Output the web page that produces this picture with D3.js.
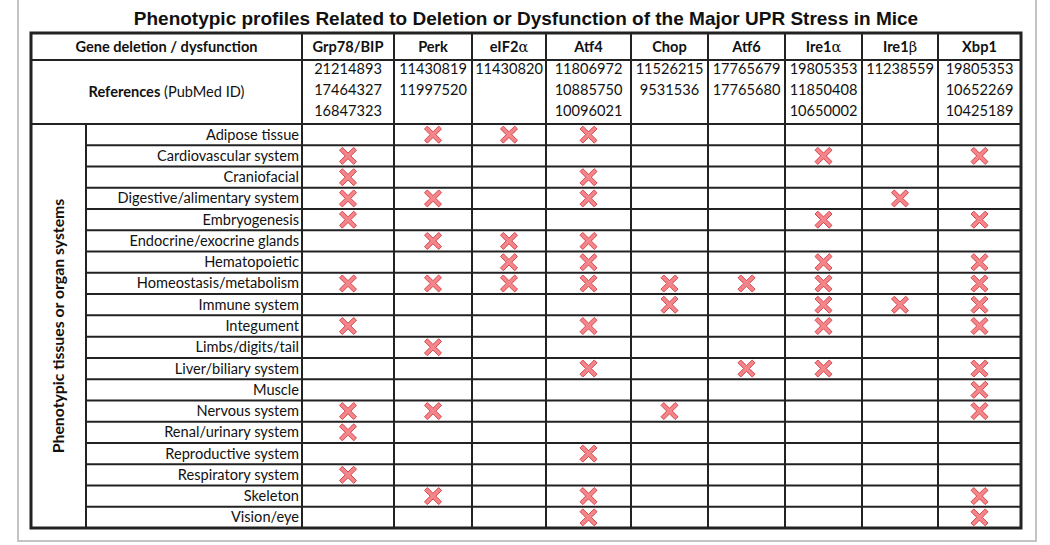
<!DOCTYPE html>
<html>
<head>
<meta charset="utf-8">
<script src="https://cdn.jsdelivr.net/npm/d3@7"></script>
<style>
  html, body { margin: 0; padding: 0; background: #fff; }
  #svg-container { width: 1050px; height: 545px; }
  text { font-family: Lato, "Open Sans", sans-serif; fill: #111; }
</style>
</head>
<body>
<div id="svg-container"></div>
<script>
////////////////////////////////////////////////////////////////////
////////////////////////////  Data  ////////////////////////////////
const title = "Phenotypic profiles Related to Deletion or Dysfunction of the Major UPR Stress in Mice";

// genes (column headers); greek letter kept apart so it can take a serif face
const genes = ["Grp78/BIP", "Perk", "eIF2α", "Atf4", "Chop", "Atf6", "Ire1α", "Ire1β", "Xbp1"];

const pubmedIds = [
  ["21214893", "17464327", "16847323"],
  ["11430819", "11997520"],
  ["11430820"],
  ["11806972", "10885750", "10096021"],
  ["11526215", "9531536"],
  ["17765679", "17765680"],
  ["19805353", "11850408", "10650002"],
  ["11238559"],
  ["19805353", "10652269", "10425189"],
];

const systems = [
  "Adipose tissue", "Cardiovascular system", "Craniofacial",
  "Digestive/alimentary system", "Embryogenesis", "Endocrine/exocrine glands",
  "Hematopoietic", "Homeostasis/metabolism", "Immune system", "Integument",
  "Limbs/digits/tail", "Liver/biliary system", "Muscle", "Nervous system",
  "Renal/urinary system", "Reproductive system", "Respiratory system",
  "Skeleton", "Vision/eye",
];

// phenotype reported: system -> genes marked
const phenotypes = [
  ["Perk", "eIF2α", "Atf4"],
  ["Grp78/BIP", "Ire1α", "Xbp1"],
  ["Grp78/BIP", "Atf4"],
  ["Grp78/BIP", "Perk", "Atf4", "Ire1β"],
  ["Grp78/BIP", "Ire1α", "Xbp1"],
  ["Perk", "eIF2α", "Atf4"],
  ["eIF2α", "Atf4", "Ire1α", "Xbp1"],
  ["Grp78/BIP", "Perk", "eIF2α", "Atf4", "Chop", "Atf6", "Ire1α", "Xbp1"],
  ["Chop", "Ire1α", "Ire1β", "Xbp1"],
  ["Grp78/BIP", "Atf4", "Ire1α", "Xbp1"],
  ["Perk"],
  ["Atf4", "Atf6", "Ire1α", "Xbp1"],
  ["Xbp1"],
  ["Grp78/BIP", "Perk", "Chop", "Xbp1"],
  ["Grp78/BIP"],
  ["Atf4"],
  ["Grp78/BIP"],
  ["Perk", "Atf4", "Xbp1"],
  ["Atf4", "Xbp1"],
];

////////////////////////////////////////////////////////////////////
////////////////////////////  Layout  //////////////////////////////
const width = 1050, height = 545;
const table = { left: 31, right: 1021, top: 33, headerBottom: 60, refBottom: 124, bottom: 528 };
const groupCol = 86;      // right edge of the rotated-label column
const labelCol = 302;     // right edge of the system label column
// column edges of the gene columns
const colEdges = [302, 394, 472, 546, 631, 708, 785, 862, 938, 1021];

const svg = d3.select("#svg-container").append("svg")
  .attr("width", width).attr("height", height);

// scales
const xLeft = d3.scaleOrdinal().domain(genes).range(colEdges.slice(0, -1));
const xRight = d3.scaleOrdinal().domain(genes).range(colEdges.slice(1));
const xMid = (g) => (xLeft(g) + xRight(g)) / 2;
const yScale = d3.scaleBand().domain(systems).range([table.refBottom, table.bottom]);
const refLine = d3.scaleLinear().domain([0, 1]).range([74, 95]);

// outer frame
svg.append("rect")
  .attr("x", 18).attr("y", -2).attr("width", 1018).attr("height", 543)
  .attr("fill", "none").attr("stroke", "#c4c4c4").attr("stroke-width", 2);

// title
svg.append("text")
  .attr("x", 526).attr("y", 25)
  .attr("text-anchor", "middle")
  .style("font-family", "'Liberation Sans', Arial, sans-serif")
  .style("font-weight", "bold").style("font-size", "19px")
  .text(title);

////////////////////////////////////////////////////////////////////
////////////////////////////  Grid  ////////////////////////////////
const grid = svg.append("g").attr("stroke", "#222").attr("stroke-width", 2).attr("fill", "none");

// horizontal lines
grid.selectAll(".hline-top")
  .data([table.headerBottom, table.refBottom])
  .join("line")
  .attr("x1", table.left).attr("x2", table.right)
  .attr("y1", (d) => d).attr("y2", (d) => d);

grid.selectAll(".hline-row")
  .data(systems.slice(1))
  .join("line")
  .attr("x1", groupCol).attr("x2", table.right)
  .attr("y1", (d) => yScale(d)).attr("y2", (d) => yScale(d));

// vertical lines
grid.selectAll(".vline")
  .data(genes)
  .join("line")
  .attr("x1", (d) => xLeft(d)).attr("x2", (d) => xLeft(d))
  .attr("y1", table.top).attr("y2", table.bottom);

grid.append("line")
  .attr("x1", groupCol).attr("x2", groupCol)
  .attr("y1", table.refBottom).attr("y2", table.bottom);

grid.append("rect")
  .attr("x", table.left).attr("y", table.top)
  .attr("width", table.right - table.left).attr("height", table.bottom - table.top)
  .attr("stroke-width", 3);

////////////////////////////////////////////////////////////////////
////////////////////////////  Text  ////////////////////////////////
const fs = "14.6px";
const midLabel = (table.left + labelCol) / 2;

svg.append("text")
  .attr("x", midLabel).attr("y", 52)
  .attr("text-anchor", "middle")
  .style("font-weight", "bold").style("font-size", fs)
  .text("Gene deletion / dysfunction");

const refTitle = svg.append("text")
  .attr("x", midLabel).attr("y", 97)
  .attr("text-anchor", "middle")
  .style("font-size", fs);
refTitle.append("tspan").style("font-weight", "bold").text("References");
refTitle.append("tspan").text(" (PubMed ID)");

// gene headers, greek letters in a serif face
const geneText = svg.selectAll(".gene")
  .data(genes)
  .join("text")
  .attr("class", "gene")
  .attr("x", (d) => xMid(d)).attr("y", 52)
  .attr("text-anchor", "middle")
  .style("font-weight", "bold").style("font-size", fs);

geneText.each(function (d) {
  const t = d3.select(this);
  const m = d.match(/^(.*?)([αβ])$/);
  if (m) {
    t.append("tspan").text(m[1]);
    t.append("tspan")
      .style("font-family", "'DejaVu Serif', serif")
      .style("font-weight", "normal")
      .text(m[2]);
  } else {
    t.text(d);
  }
});

// pubmed ids
svg.selectAll(".refs")
  .data(genes)
  .join("g")
  .attr("class", "refs")
  .each(function (g, i) {
    d3.select(this).selectAll("text")
      .data(pubmedIds[i])
      .join("text")
      .attr("x", xMid(g))
      .attr("y", (d, j) => refLine(j))
      .attr("text-anchor", "middle")
      .style("font-size", fs)
      .text((d) => d);
  });

// system labels
svg.selectAll(".system")
  .data(systems)
  .join("text")
  .attr("class", "system")
  .attr("x", labelCol - 3)
  .attr("y", (d) => yScale(d) + yScale.bandwidth() / 2 + 5)
  .attr("text-anchor", "end")
  .style("font-size", fs)
  .text((d) => d);

// rotated group label
svg.append("text")
  .attr("transform", `translate(${(table.left + groupCol) / 2 + 5}, ${(table.refBottom + table.bottom) / 2}) rotate(-90)`)
  .attr("text-anchor", "middle")
  .style("font-weight", "bold").style("font-size", "15.8px")
  .text("Phenotypic tissues or organ systems");

////////////////////////////////////////////////////////////////////
////////////////////////////  Marks  ///////////////////////////////
const cells = [];
systems.forEach((s, i) => phenotypes[i].forEach((g) => cells.push({ system: s, gene: g })));

// cross shape, arms ~5px thick, ~17px across
const a = 8.5, w = 2.8;
const crossPath = `M${-a},${-a + w} L${-a + w},${-a} L0,${-w} L${a - w},${-a} L${a},${-a + w} L${w},0 ` +
  `L${a},${a - w} L${a - w},${a} L0,${w} L${-a + w},${a} L${-a},${a - w} L${-w},0 Z`;

svg.selectAll(".mark")
  .data(cells)
  .join("path")
  .attr("class", "mark")
  .attr("transform", (d) => `translate(${xMid(d.gene)}, ${yScale(d.system) + yScale.bandwidth() / 2})`)
  .attr("d", crossPath)
  .attr("fill", "#f3868a")
  .attr("stroke", "#d8454c")
  .attr("stroke-width", 1)
  .attr("stroke-linejoin", "round");
</script>
</body>
</html>
